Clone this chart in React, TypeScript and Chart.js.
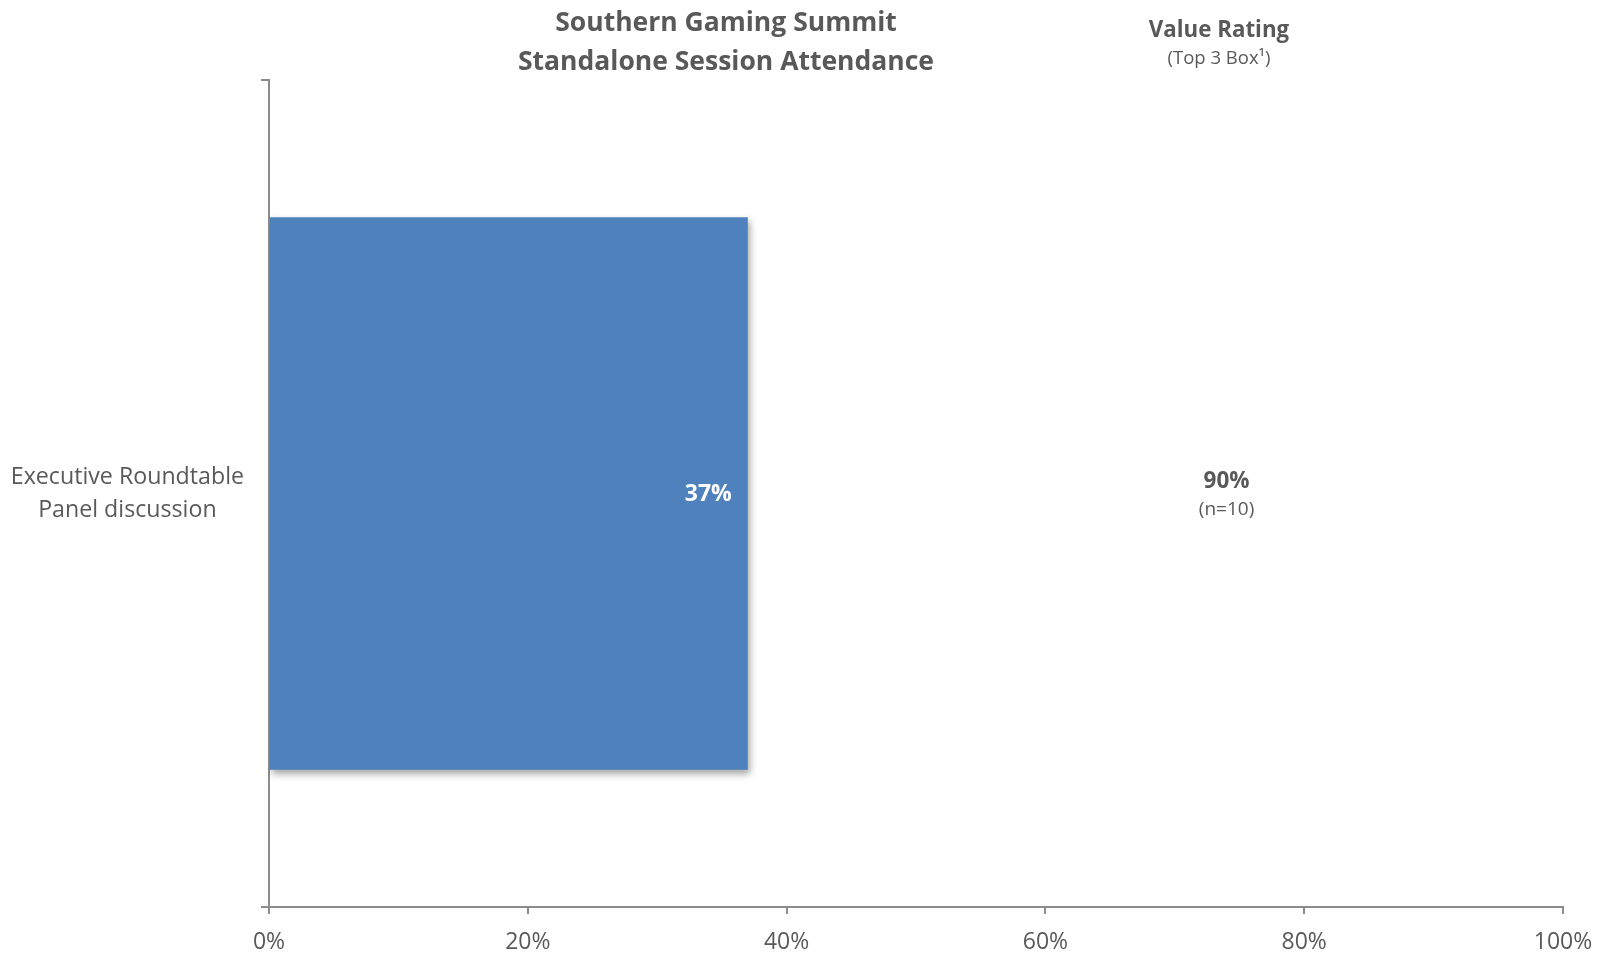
import React, { useEffect, useRef } from "react";
import { Chart, registerables } from "chart.js";

Chart.register(...registerables);

// ---- data ----
const categories: string[][] = [["Executive Roundtable", "Panel discussion"]];
const attendance: number[] = [37];
const valueRatings: number[] = [90];
const sampleSizes: number[] = [10];
const xTicks: number[] = [0, 20, 40, 60, 80, 100];

const titleLines = ["Southern Gaming Summit", "Standalone Session Attendance"];
const ratingHeader = "Value Rating";
const ratingSub = "(Top 3 Box\u00b9)";

const FONT = "'Open Sans', sans-serif";
const GREY_TEXT = "#595959";
const AXIS = "#8c8c8c";
const BAR = "#4F81BD";

export default function App() {
  const ref = useRef<HTMLCanvasElement | null>(null);

  useEffect(() => {
    if (!ref.current) return;

    const shadowPlugin = {
      id: "barShadow",
      beforeDatasetDraw(chart: any) {
        const ctx = chart.ctx;
        ctx.save();
        ctx.shadowColor = "rgba(0,0,0,0.35)";
        ctx.shadowBlur = 7;
        ctx.shadowOffsetX = 2;
        ctx.shadowOffsetY = 4;
      },
      afterDatasetDraw(chart: any) {
        chart.ctx.restore();
      },
    };

    const textPlugin = {
      id: "texts",
      afterDraw(chart: any) {
        const ctx = chart.ctx;
        const meta = chart.getDatasetMeta(0);
        ctx.save();
        ctx.textBaseline = "middle";
        ctx.textAlign = "center";
        ctx.fillStyle = GREY_TEXT;
        // title
        ctx.font = `bold 26.5px ${FONT}`;
        ctx.fillText(titleLines[0], 726, 23);
        ctx.fillText(titleLines[1], 726, 62);
        // rating header
        ctx.font = `bold 22.3px ${FONT}`;
        ctx.fillText(ratingHeader, 1219, 31);
        ctx.font = `18.5px ${FONT}`;
        ctx.fillText(ratingSub, 1219, 59);

        meta.data.forEach((bar: any, i: number) => {
          // bar value label
          ctx.textAlign = "right";
          ctx.fillStyle = "#ffffff";
          ctx.font = `bold 23px ${FONT}`;
          ctx.fillText(attendance[i] + "%", bar.x - 16, bar.y + 1);
          // value rating
          const rx = chart.scales.x.getPixelForValue(74);
          ctx.textAlign = "center";
          ctx.fillStyle = GREY_TEXT;
          ctx.font = `bold 22.5px ${FONT}`;
          ctx.fillText(valueRatings[i] + "%", rx, bar.y - 12);
          ctx.font = `19px ${FONT}`;
          ctx.fillText("(n=" + sampleSizes[i] + ")", rx, bar.y + 16);
        });
        ctx.restore();
      },
    };

    const chart = new Chart(ref.current, {
      type: "bar",
      data: {
        labels: categories as any,
        datasets: [
          {
            data: attendance,
            backgroundColor: BAR,
            borderWidth: 0,
            barPercentage: 0.668,
            categoryPercentage: 1,
          },
        ],
      },
      options: {
        indexAxis: "y",
        animation: false,
        responsive: false,
        maintainAspectRatio: false,
        layout: { padding: { top: 80, right: 39, left: 0, bottom: 0 } },
        plugins: {
          legend: { display: false },
          tooltip: { enabled: false },
          title: { display: false },
        },
        scales: {
          x: {
            min: 0,
            max: 100,
            afterBuildTicks(scale: any) {
              scale.ticks = xTicks.map((v) => ({ value: v }));
            },
            afterFit(scale: any) {
              scale.height = 48;
              scale.paddingLeft = 0;
              scale.paddingRight = 0;
            },
            grid: {
              drawOnChartArea: false,
              drawTicks: true,
              tickLength: 7,
              color: AXIS,
              lineWidth: 2,
            },
            border: { display: true, color: AXIS, width: 2 },
            ticks: {
              color: GREY_TEXT,
              font: { family: FONT, size: 23 },
              padding: 15,
              maxRotation: 0,
              callback: (v: any) => v + "%",
            },
          },
          y: {
            afterFit(scale: any) {
              scale.width = 269;
              scale.paddingTop = 0;
              scale.paddingBottom = 0;
            },
            grid: {
              drawOnChartArea: false,
              drawTicks: true,
              tickLength: 8,
              color: AXIS,
              lineWidth: 2,
              offset: true,
            },
            border: { display: true, color: AXIS, width: 2 },
            ticks: {
              color: GREY_TEXT,
              font: { family: FONT, size: 23.2, lineHeight: 1.42 },
              padding: 17,
              crossAlign: "center",
            },
          },
        },
      },
      plugins: [shadowPlugin, textPlugin],
    } as any);

    return () => chart.destroy();
  }, []);

  return (
    <div style={{ position: "fixed", left: 0, top: 0, width: 1602, height: 955, background: "#fff" }}>
      <canvas ref={ref} width={1602} height={955} style={{ width: 1602, height: 955, display: "block" }} />
    </div>
  );
}
